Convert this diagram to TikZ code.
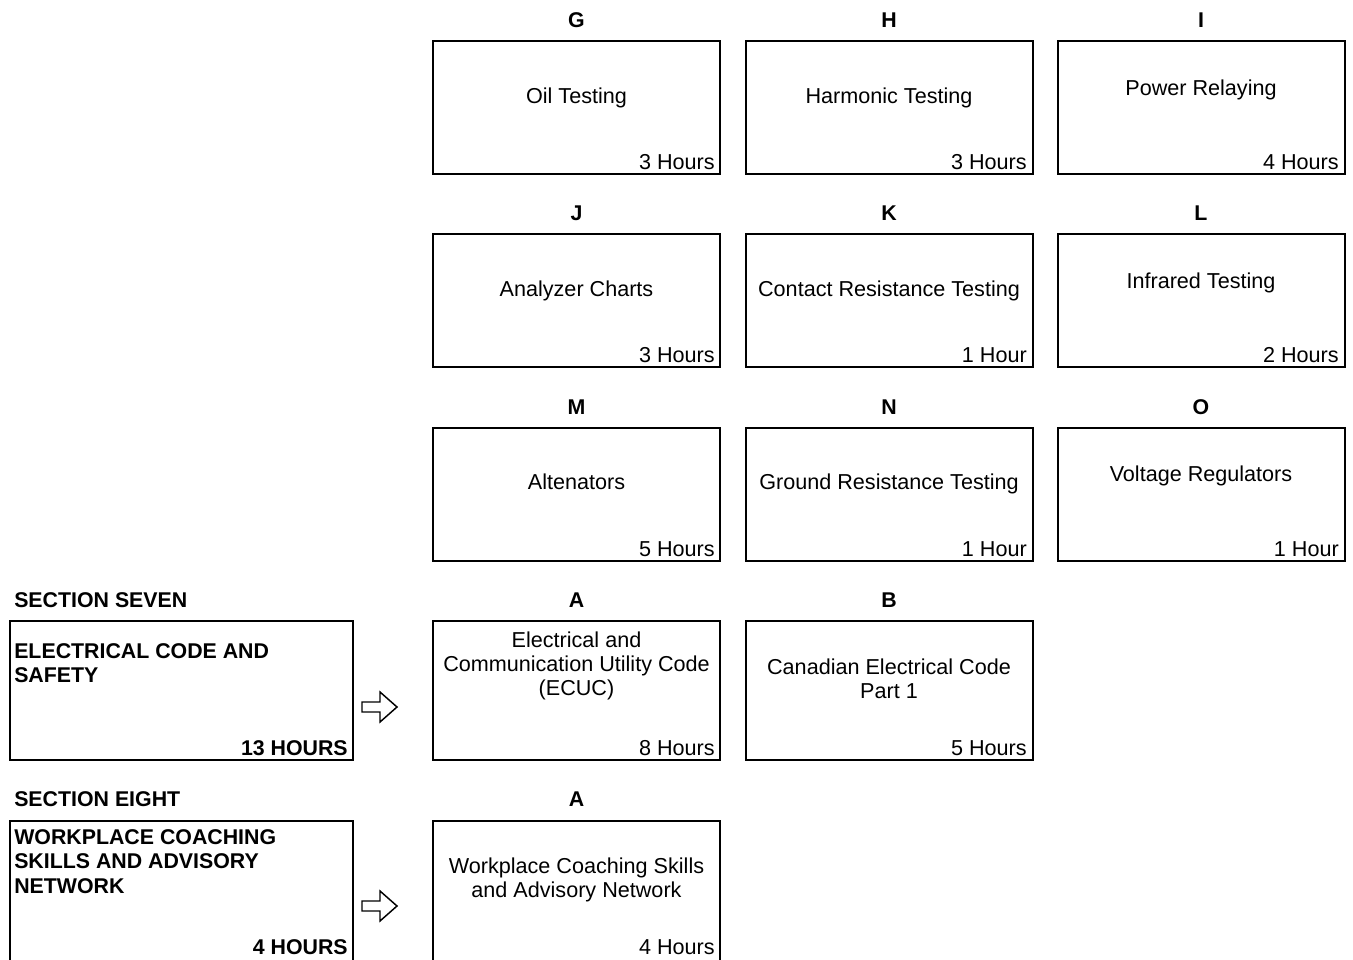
\documentclass[tikz,border=0pt]{standalone}
\usepackage{fontspec}
\setmainfont{Liberation Sans}
\begin{document}
\begin{tikzpicture}[x=0.75pt,y=-0.75pt,
  cbox/.style={draw, line width=1.5pt, outer sep=0pt, inner sep=0pt, anchor=north west,
    minimum width=215.25pt, minimum height=99.75pt},
  tallbox/.style={cbox, minimum height=104.25pt},
  sidebox/.style={cbox, minimum width=257.25pt, minimum height=104.25pt},
  lastbox/.style={minimum height=106.5pt},
  txt/.style={font=\fontsize{16.2}{18}\selectfont, inner sep=0pt, anchor=base},
  hrs/.style={txt, anchor=base east},
  hd/.style={txt, font=\fontsize{16}{18}\selectfont\bfseries},
  multi/.style={txt, anchor=center, align=center},
  side/.style={font=\fontsize{16}{18.5}\selectfont\bfseries, inner sep=0pt, anchor=west, align=left},
  blockarrow/.style={draw, line width=1.1pt, line join=miter}]
\useasboundingbox (0,0) rectangle (1353,960);

% ---------- row 1 ----------
\node[cbox] (G) at (433,41) {};
\node[cbox] (H) at (746,41) {};
\node[cbox] (I) at (1058,41) {};
\node[hd] (Gl) at (576.5,27) {G};
\node[hd] (Hl) at (889,27) {H};
\node[hd] (Il) at (1201,27) {I};
\node[txt] (Gt) at (576.5,103) {Oil Testing};
\node[txt] (Ht) at (889,103) {Harmonic Testing};
\node[txt] (It) at (1201,95) {Power Relaying};
\node[hrs] (Gh) at (715,169) {3 Hours};
\node[hrs] (Hh) at (1027,169) {3 Hours};
\node[hrs] (Ih) at (1339,169) {4 Hours};

% ---------- row 2 ----------
\node[cbox] (J) at (433,234) {};
\node[cbox] (K) at (746,234) {};
\node[cbox] (L) at (1058,234) {};
\node[hd] (Jl) at (576.5,220) {J};
\node[hd] (Kl) at (889,220) {K};
\node[hd] (Ll) at (1201,220) {L};
\node[txt] (Jt) at (576.5,296) {Analyzer Charts};
\node[txt] (Kt) at (889,296) {Contact Resistance Testing};
\node[txt] (Lt) at (1201,288) {Infrared Testing};
\node[hrs] (Jh) at (715,362) {3 Hours};
\node[hrs] (Kh) at (1027,362) {1 Hour};
\node[hrs] (Lh) at (1339,362) {2 Hours};

% ---------- row 3 ----------
\node[cbox] (M) at (433,428) {};
\node[cbox] (N) at (746,428) {};
\node[cbox] (O) at (1058,428) {};
\node[hd] (Ml) at (576.5,414) {M};
\node[hd] (Nl) at (889,414) {N};
\node[hd] (Ol) at (1201,414) {O};
\node[txt] (Mt) at (576.5,489) {Altenators};
\node[txt] (Nt) at (889,489) {Ground Resistance Testing};
\node[txt] (Ot) at (1201,481) {Voltage Regulators};
\node[hrs] (Mh) at (715,556) {5 Hours};
\node[hrs] (Nh) at (1027,556) {1 Hour};
\node[hrs] (Oh) at (1339,556) {1 Hour};

% ---------- section seven ----------
\node[hd, anchor=base west] (S7) at (14,607) {SECTION SEVEN};
\node[sidebox] (S7box) at (10,621) {};
\node[side] (S7t) at (14,665.5) {\strut ELECTRICAL CODE AND\\SAFETY\strut};
\node[hd, anchor=base east] (S7h) at (348,755) {13 HOURS};
\draw[blockarrow] (362,702) -- (380,702) -- (380,692) -- (397,707) -- (380,722) -- (380,712) -- (362,712) -- cycle;

\node[tallbox] (A7) at (433,621) {};
\node[tallbox] (B7) at (746,621) {};
\node[hd] (A7l) at (576.5,607) {A};
\node[hd] (B7l) at (889,607) {B};
\node[multi] (A7t) at (576.5,666.2) {\strut Electrical and\\Communication Utility Code\\(ECUC)\strut};
\node[multi] (B7t) at (889,681.2) {\strut Canadian Electrical Code\\Part 1\strut};
\node[hrs] (A7h) at (715,755) {8 Hours};
\node[hrs] (B7h) at (1027,755) {5 Hours};

% ---------- section eight ----------
\node[hd, anchor=base west] (S8) at (14,806) {SECTION EIGHT};
\node[sidebox, lastbox] (S8box) at (10,821) {};
\node[side] (S8t) at (14,864) {\strut WORKPLACE COACHING\\SKILLS AND ADVISORY\\NETWORK\strut};
\node[hd, anchor=base east] (S8h) at (348,954) {4 HOURS};
\draw[blockarrow] (362,901) -- (380,901) -- (380,891) -- (397,906) -- (380,921) -- (380,911) -- (362,911) -- cycle;

\node[tallbox, lastbox] (A8) at (433,821) {};
\node[hd] (A8l) at (576.5,806) {A};
\node[multi] (A8t) at (576.5,880.2) {\strut Workplace Coaching Skills\\and Advisory Network\strut};
\node[hrs] (A8h) at (715,954) {4 Hours};
\end{tikzpicture}
\end{document}
